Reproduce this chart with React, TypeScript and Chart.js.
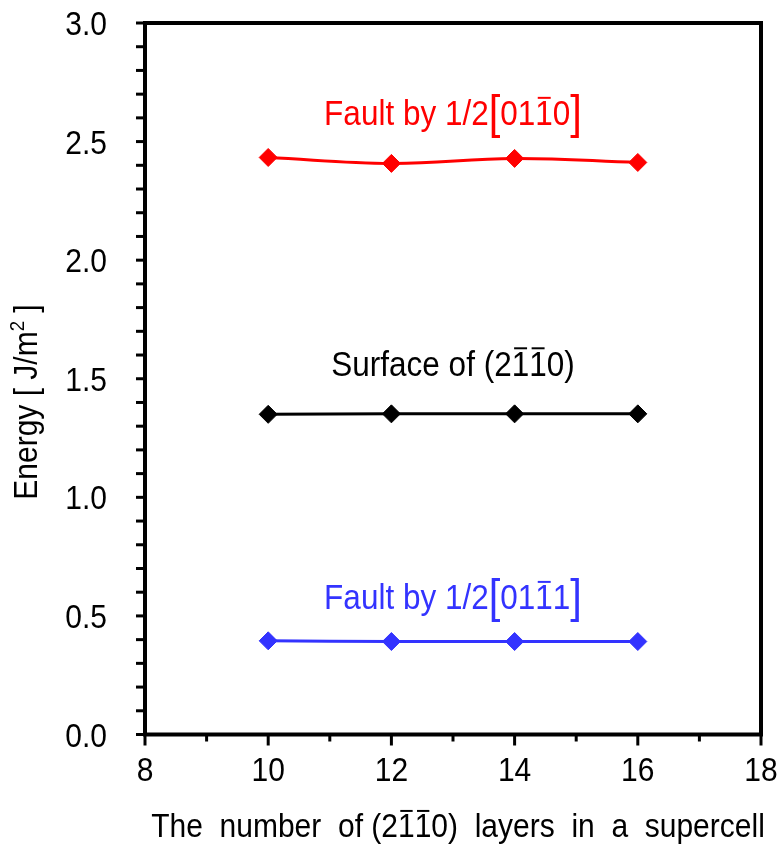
import React, { useEffect, useRef } from 'react';
import { Chart, registerables } from 'chart.js';

Chart.register(...registerables);

// ---- data ----
const layers = [10, 12, 14, 16];
const faultA = [2.433, 2.408, 2.429, 2.412]; // Fault by 1/2[01-10] (red)
const surface = [1.35, 1.352, 1.352, 1.352]; // Surface of (2-1-10) (black)
const faultB = [0.395, 0.392, 0.392, 0.392]; // Fault by 1/2[01-11] (blue)

const xMajorTicks = [8, 10, 12, 14, 16, 18];
const xMinorTicks = [9, 11, 13, 15, 17];
const yMajorTicks = [0, 0.5, 1.0, 1.5, 2.0, 2.5, 3.0];
const yMinorStep = 0.1;

const seriesColors = ['#ff0000', '#000000', '#3333ff'];
const labelX = [13, 13, 13];
const labelY = [2.569, 1.513, 0.528];

type Seg = { t: string; over?: boolean; big?: boolean; sup?: boolean };

const labelSegs: Seg[][] = [
  [{ t: 'Fault by 1/2' }, { t: '[', big: true }, { t: '01' }, { t: '1', over: true }, { t: '0' }, { t: ']', big: true }],
  [{ t: 'Surface of (2' }, { t: '1', over: true }, { t: '1', over: true }, { t: '0)' }],
  [{ t: 'Fault by 1/2' }, { t: '[', big: true }, { t: '01' }, { t: '1', over: true }, { t: '1' }, { t: ']', big: true }],
];
const xTitleSegs: Seg[] = [
  { t: 'The  number  of (2' }, { t: '1', over: true }, { t: '1', over: true }, { t: '0)  layers  in  a  supercell' },
];
const yTitleSegs: Seg[] = [{ t: 'Energy [ J/m' }, { t: '2', sup: true }, { t: ' ]' }];

const FAMILY = '"Liberation Sans", Arial, sans-serif';
const STRETCH = 1.1;

function segFont(s: Seg, size: number) {
  if (s.big) return `${size * 1.32}px ${FAMILY}`;
  if (s.sup) return `${size * 0.62}px ${FAMILY}`;
  return `${size}px ${FAMILY}`;
}

function drawRich(
  ctx: CanvasRenderingContext2D,
  segs: Seg[],
  x: number,
  y: number,
  color: string,
  size: number,
  align: 'center' | 'right' = 'center',
  rotate = false
) {
  ctx.save();
  const widths = segs.map((s) => {
    ctx.font = segFont(s, size);
    return ctx.measureText(s.t).width;
  });
  const total = widths.reduce((a, b) => a + b, 0);
  ctx.translate(x, y);
  if (rotate) ctx.rotate(-Math.PI / 2);
  ctx.scale(1, STRETCH);
  ctx.fillStyle = color;
  ctx.strokeStyle = color;
  ctx.textBaseline = 'alphabetic';
  ctx.textAlign = 'left';
  let cx = align === 'center' ? -total / 2 : -total;
  segs.forEach((s, i) => {
    ctx.font = segFont(s, size);
    const dy = s.sup ? -size * 0.4 : s.big ? size * 0.08 : 0;
    ctx.fillText(s.t, cx, dy);
    if (s.over) {
      ctx.lineWidth = 1.8;
      ctx.beginPath();
      const oy = -size * 0.79;
      ctx.moveTo(cx + widths[i] * 0.14, oy);
      ctx.lineTo(cx + widths[i] * 0.88, oy);
      ctx.stroke();
    }
    cx += widths[i];
  });
  ctx.restore();
}

const framePlugin = {
  id: 'frame',
  afterDraw(chart: any) {
    const ctx: CanvasRenderingContext2D = chart.ctx;
    const xs = chart.scales.x;
    const ys = chart.scales.y;
    const { left, right, top, bottom } = chart.chartArea;
    ctx.save();
    ctx.strokeStyle = '#000';
    // ticks on y axis
    ctx.lineWidth = 3;
    for (let v = 0; v <= 3.0001; v += yMinorStep) {
      const py = ys.getPixelForValue(v);
      ctx.beginPath();
      ctx.moveTo(left - 9, py);
      ctx.lineTo(left, py);
      ctx.stroke();
    }
    // ticks on x axis
    xMajorTicks.forEach((v) => {
      const px = xs.getPixelForValue(v);
      ctx.beginPath();
      ctx.moveTo(px, bottom);
      ctx.lineTo(px, bottom + 11);
      ctx.stroke();
    });
    xMinorTicks.forEach((v) => {
      const px = xs.getPixelForValue(v);
      ctx.beginPath();
      ctx.moveTo(px, bottom);
      ctx.lineTo(px, bottom + 7);
      ctx.stroke();
    });
    // frame
    ctx.lineWidth = 4;
    ctx.strokeRect(left, top, right - left, bottom - top);
    ctx.restore();

    // tick labels
    yMajorTicks.forEach((v) => {
      const py = ys.getPixelForValue(v);
      drawRich(ctx, [{ t: v.toFixed(1) }], 107, py + 12, '#000', 30, 'right');
    });
    xMajorTicks.forEach((v) => {
      const px = xs.getPixelForValue(v);
      drawRich(ctx, [{ t: String(v) }], px, 781, '#000', 30, 'center');
    });

    // axis titles
    drawRich(ctx, xTitleSegs, 458, 837, '#000', 30, 'center');
    drawRich(ctx, yTitleSegs, 37, 402, '#000', 30, 'center', true);

    // series labels
    labelSegs.forEach((segs, i) => {
      drawRich(ctx, segs, xs.getPixelForValue(labelX[i]), ys.getPixelForValue(labelY[i]), seriesColors[i], 31.5, 'center');
    });
  },
};

function makeDataset(values: number[], color: string) {
  return {
    data: layers.map((x, i) => ({ x, y: values[i] })),
    borderColor: color,
    backgroundColor: color,
    borderWidth: 3,
    pointStyle: 'rectRot' as const,
    pointRadius: 9,
    pointBorderWidth: 1,
    pointBackgroundColor: color,
    pointBorderColor: color,
    tension: 0.4,
    clip: false as const,
  };
}

export default function App() {
  const canvasRef = useRef<HTMLCanvasElement | null>(null);

  useEffect(() => {
    document.body.style.margin = '0';
    const canvas = canvasRef.current;
    if (!canvas) return;
    const chart = new Chart(canvas, {
      type: 'line',
      data: {
        datasets: [
          makeDataset(faultA, seriesColors[0]),
          makeDataset(surface, seriesColors[1]),
          makeDataset(faultB, seriesColors[2]),
        ],
      },
      options: {
        responsive: false,
        animation: false,
        devicePixelRatio: 1,
        layout: { padding: { left: 145, right: 22, top: 23, bottom: 110.5 } },
        plugins: { legend: { display: false }, tooltip: { enabled: false } },
        scales: {
          x: { type: 'linear', min: 8, max: 18, display: false },
          y: { type: 'linear', min: 0, max: 3, display: false },
        },
      },
      plugins: [framePlugin],
    });
    return () => chart.destroy();
  }, []);

  return (
    <div style={{ position: 'fixed', left: 0, top: 0, width: 783, height: 845, background: '#fff' }}>
      <canvas ref={canvasRef} width={783} height={845} style={{ width: 783, height: 845, display: 'block' }} />
    </div>
  );
}
